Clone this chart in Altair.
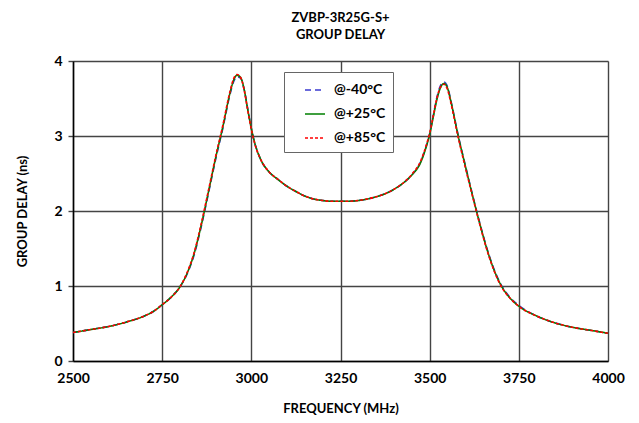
import altair as alt
import pandas as pd

freq = [2500, 2550, 2600, 2650, 2700, 2725, 2750, 2775, 2800, 2820, 2840, 2860, 2880, 2900,
        2920, 2940, 2950, 2960, 2970, 2980, 2990, 3000, 3010, 3025, 3050, 3075, 3100, 3125,
        3150, 3175, 3200, 3225, 3250, 3275, 3300, 3325, 3350, 3375, 3400, 3425, 3450, 3475,
        3490, 3500, 3510, 3520, 3530, 3540, 3550, 3560, 3580, 3600, 3620, 3640, 3660, 3680,
        3700, 3725, 3750, 3800, 3850, 3900, 3950, 4000]

gd_m40 = [0.38, 0.42, 0.46, 0.52, 0.60, 0.66, 0.75, 0.85, 0.99, 1.16, 1.42, 1.80, 2.24, 2.69,
          3.10, 3.55, 3.72, 3.79, 3.77, 3.62, 3.36, 3.10, 2.90, 2.70, 2.52, 2.42, 2.33, 2.26,
          2.20, 2.16, 2.14, 2.13, 2.13, 2.13, 2.14, 2.16, 2.19, 2.23, 2.29, 2.37, 2.48, 2.66,
          2.86, 3.03, 3.27, 3.51, 3.67, 3.72, 3.66, 3.46, 3.01, 2.61, 2.22, 1.85, 1.51, 1.23,
          1.02, 0.85, 0.74, 0.60, 0.51, 0.45, 0.41, 0.37]

gd_p25 = [0.38, 0.42, 0.46, 0.52, 0.60, 0.66, 0.75, 0.85, 0.99, 1.17, 1.44, 1.82, 2.26, 2.71,
          3.12, 3.57, 3.74, 3.81, 3.78, 3.62, 3.35, 3.10, 2.90, 2.70, 2.52, 2.42, 2.33, 2.26,
          2.20, 2.16, 2.14, 2.13, 2.13, 2.13, 2.14, 2.16, 2.19, 2.23, 2.29, 2.37, 2.48, 2.65,
          2.85, 3.02, 3.25, 3.48, 3.64, 3.70, 3.64, 3.45, 3.00, 2.60, 2.21, 1.84, 1.50, 1.22,
          1.01, 0.84, 0.73, 0.60, 0.51, 0.45, 0.41, 0.37]

gd_p85 = [0.38, 0.42, 0.46, 0.52, 0.60, 0.66, 0.75, 0.85, 0.99, 1.18, 1.45, 1.84, 2.28, 2.73,
          3.14, 3.59, 3.76, 3.82, 3.78, 3.61, 3.34, 3.09, 2.89, 2.70, 2.52, 2.42, 2.33, 2.26,
          2.20, 2.16, 2.14, 2.13, 2.13, 2.13, 2.14, 2.16, 2.19, 2.23, 2.29, 2.37, 2.49, 2.67,
          2.87, 3.04, 3.27, 3.50, 3.65, 3.69, 3.62, 3.43, 2.98, 2.58, 2.20, 1.83, 1.49, 1.21,
          1.00, 0.84, 0.73, 0.60, 0.51, 0.45, 0.41, 0.37]

series = ["@-40°C", "@+25°C", "@+85°C"]
colors = ["#3a3ad0", "#008000", "#ff0000"]
dashes = [[6, 4], [1, 0], [3, 2]]

x_ticks = [2500, 2750, 3000, 3250, 3500, 3750, 4000]
y_ticks = [0, 1, 2, 3, 4]

rows = []
for name, vals in zip(series, [gd_m40, gd_p25, gd_p85]):
    for f, g in zip(freq, vals):
        rows.append({"freq": f, "gd": g, "series": name})
df = pd.DataFrame(rows)

FONT = "Lato"
axis_style = dict(
    grid=True, gridColor="#444444", gridWidth=1.4, gridOpacity=1,
    domainColor="black", domainWidth=1.5, tickColor="#444444", tickWidth=1.4,
    labelFont=FONT, labelFontSize=14, labelFontWeight="bold", labelColor="black",
    titleFont=FONT, titleFontSize=13, titleFontWeight="bold", titleColor="black",
    labelFlush=False,
)

base = alt.Chart(df).encode(
    x=alt.X("freq:Q", scale=alt.Scale(domain=[2500, 4000], nice=False),
            axis=alt.Axis(values=x_ticks, title="FREQUENCY (MHz)", ticks=False,
                          labelPadding=10, titlePadding=17, format="d", **axis_style)),
    y=alt.Y("gd:Q", scale=alt.Scale(domain=[0, 4], nice=False),
            axis=alt.Axis(values=y_ticks, title="GROUP DELAY (ns)", ticks=True, tickSize=5,
                          labelPadding=6, titlePadding=24, **axis_style)),
    color=alt.Color("series:N", scale=alt.Scale(domain=series, range=colors),
                    sort=series,
                    legend=alt.Legend(title=None, orient="none", legendX=211, legendY=11,
                                      symbolType="stroke", symbolSize=400,
                                      symbolStrokeWidth=1.6, padding=7,
                                      symbolOffset=13, labelOffset=8, rowPadding=6,
                                      strokeColor="#666666", fillColor="white",
                                      labelFontSize=14, labelFontWeight="bold",
                                      labelFont=FONT, labelColor="black")),
    strokeDash=alt.StrokeDash("series:N", scale=alt.Scale(domain=series, range=dashes),
                              sort=series, legend=None),
)

layers = [
    base.transform_filter(alt.datum.series == s).mark_line(strokeWidth=1.6,
                                                          interpolate="monotone")
    for s in series
]

chart = alt.layer(*layers).properties(
    width=535,
    height=300,
    title=alt.TitleParams(text=["ZVBP-3R25G-S+", "GROUP DELAY"], anchor="middle",
                          fontSize=13, font=FONT, fontWeight="bold", lineHeight=17,
                          offset=12, color="black"),
    autosize=alt.AutoSizeParams(type="none"),
    padding={"left": 65, "top": 53, "right": 23, "bottom": 54},
).configure_view(
    stroke="black", strokeWidth=2
).configure(background="white")

chart.save("out.html", embed_options={"renderer": "svg", "actions": False})
